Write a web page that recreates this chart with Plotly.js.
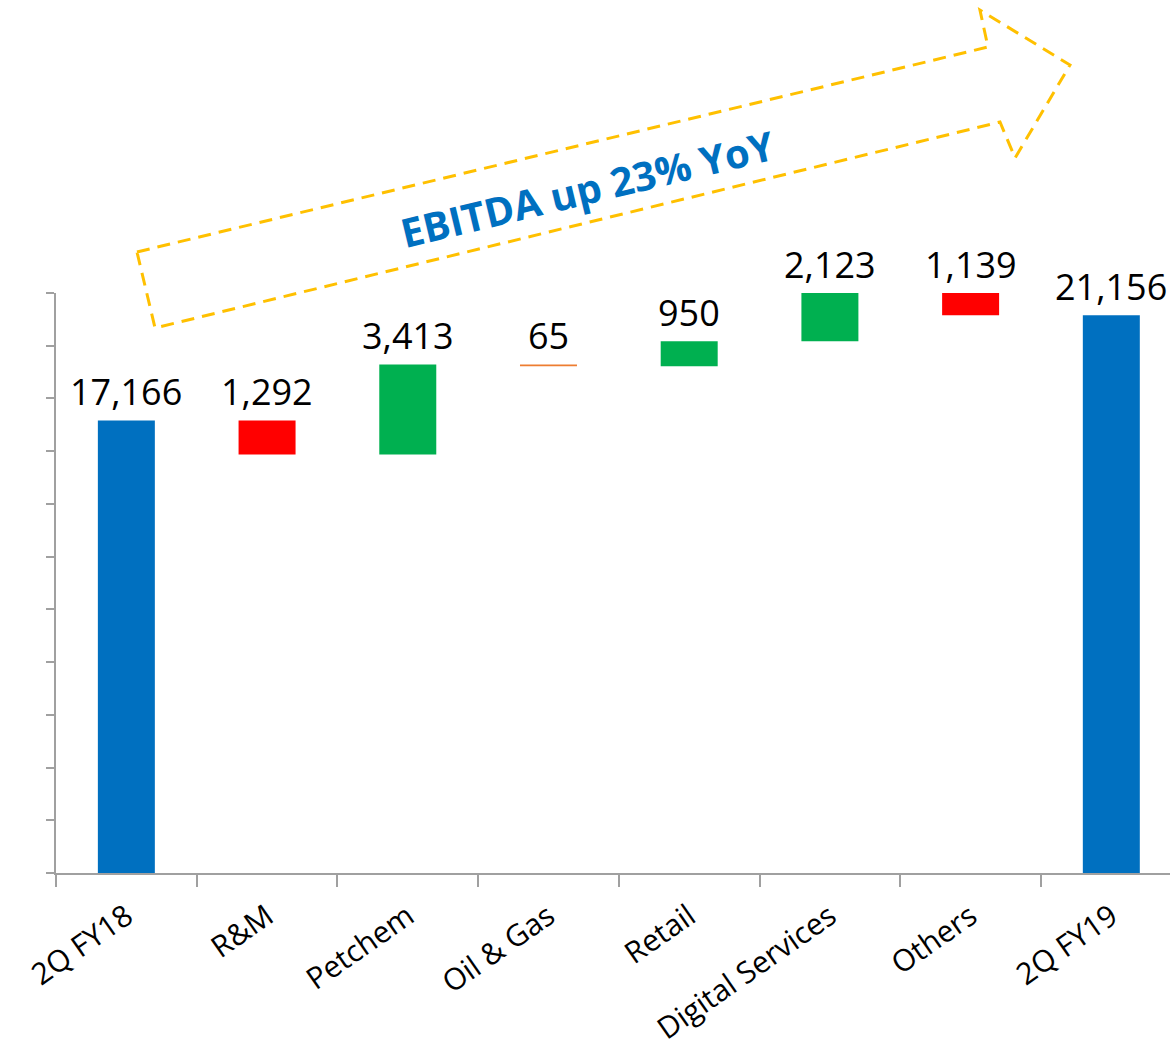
<!DOCTYPE html>
<html>
<head>
<meta charset="utf-8">
<script src="https://cdn.plot.ly/plotly-3.0.1.min.js"></script>
<style>html,body{margin:0;padding:0;background:#fff;}#chart{width:1170px;height:1050px;}</style>
</head>
<body>
<div id="chart"></div>
<script>
// ---- data ----
const categories = ['2Q FY18', 'R&M', 'Petchem', 'Oil & Gas', 'Retail', 'Digital Services', 'Others', '2Q FY19'];
const values = [17166, -1292, 3413, -65, 950, 2123, -1139, 21156];
const kinds = ['total', 'delta', 'delta', 'delta', 'delta', 'delta', 'delta', 'total'];
const barColors = ['#0070C0', '#FF0000', '#00B050', '#ED7D31', '#00B050', '#00B050', '#FF0000', '#0070C0'];
const yMax = 22000;
const yStep = 2000;
const headline = 'EBITDA up 23% YoY';

// ---- derive bar bases from running total ----
const bases = [];
const heights = [];
const tops = [];
let running = 0;
values.forEach((v, i) => {
  if (kinds[i] === 'total') {
    bases.push(0); heights.push(v); running = v; tops.push(v);
  } else {
    bases.push(running); heights.push(v); tops.push(Math.max(running, running + v)); running += v;
  }
});
const fmt = n => Math.abs(n).toLocaleString('en-US');

const trace = {
  type: 'bar',
  x: categories,
  y: heights,
  base: bases,
  width: 0.405,
  marker: { color: barColors, line: { width: 0 } },
  hoverinfo: 'skip',
  cliponaxis: true
};

const labelAnnotations = categories.map((c, i) => ({
  x: c, y: Math.min(tops[i], yMax), xref: 'x', yref: 'y',
  text: fmt(values[i]), showarrow: false,
  yanchor: 'middle', yshift: 29,
  font: { family: 'Open Sans, Noto Sans, sans-serif', size: 36, color: '#000000' }
}));

// decorative dashed arrow (paper coordinates)
const arrowPts = [[0.0727, 1.0707], [0.8366, 1.4241], [0.8294, 1.4879], [0.9102, 1.3931], [0.8609, 1.2328], [0.8474, 1.2948], [0.0889, 0.9397]];
const arrowPath = 'M ' + arrowPts.map(p => p[0] + ',' + p[1]).join(' L ') + ' Z';

const layout = {
  width: 1170, height: 1050,
  margin: { l: 56, r: 0, t: 293, b: 177, pad: 0 },
  paper_bgcolor: '#ffffff', plot_bgcolor: '#ffffff',
  showlegend: false,
  font: { family: 'Open Sans, Noto Sans, sans-serif', color: '#000000' },
  xaxis: {
    type: 'category',
    range: [-0.5, 7.417],
    tickson: 'boundaries',
    ticks: 'outside', ticklen: 12, tickwidth: 2, tickcolor: '#A0A0A0',
    showline: true, linecolor: '#A0A0A0', linewidth: 2,
    showgrid: false, zeroline: false,
    tickangle: -35,
    ticklabelstandoff: 12,
    tickfont: { family: 'Open Sans, Noto Sans, sans-serif', size: 30, color: '#000000' },
    fixedrange: true
  },
  yaxis: {
    range: [0, yMax], dtick: yStep, tick0: 0,
    showticklabels: false,
    ticks: 'outside', ticklen: 8, tickwidth: 2, tickcolor: '#A0A0A0',
    showline: true, linecolor: '#A0A0A0', linewidth: 2,
    showgrid: false, zeroline: false,
    fixedrange: true
  },
  shapes: [{
    type: 'path', xref: 'paper', yref: 'paper', path: arrowPath,
    line: { color: '#FFC000', width: 3, dash: '13px,8px' },
    fillcolor: 'rgba(0,0,0,0)'
  }],
  annotations: labelAnnotations.concat([{
    xref: 'paper', yref: 'paper', x: 0.477, y: 1.18,
    text: '<b>' + headline + '</b>', showarrow: false, textangle: -13.5,
    xanchor: 'center', yanchor: 'middle',
    font: { family: 'Open Sans, Noto Sans, sans-serif', size: 40, color: '#0070C0' }
  }])
};

Plotly.newPlot('chart', [trace], layout, { displayModeBar: false, staticPlot: true });
</script>
</body>
</html>
